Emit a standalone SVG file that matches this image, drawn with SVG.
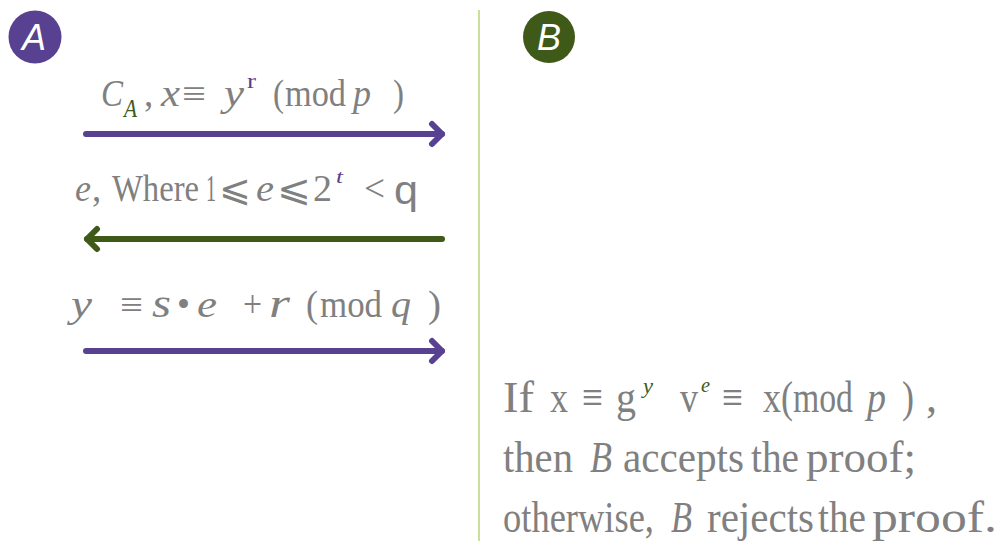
<svg xmlns="http://www.w3.org/2000/svg" width="1001" height="541" viewBox="0 0 1001 541">
<style>
.t{font-family:"Liberation Serif","DejaVu Serif",serif;fill:#808080;}
.l{font-size:37px;}
.r{font-size:44px;}
.i{font-style:italic;}
.sym{font-family:"DejaVu Sans","Liberation Serif",sans-serif;}
.pur{fill:#574190;}
.grn{fill:#3f5a18;}
.badge{font-family:"Liberation Sans",sans-serif;font-style:italic;font-size:36px;fill:#ffffff;}
.conn{fill:none;stroke-width:6;stroke-linecap:round;}
</style>
<defs>
<marker id="hp" viewBox="-14 -14 28 28" refX="0" refY="0" markerWidth="28" markerHeight="28" markerUnits="userSpaceOnUse" orient="auto">
<path d="M-10,-10 L0,0 L-10,10" fill="none" stroke="#574190" stroke-width="6" stroke-linecap="round" stroke-linejoin="round"/>
</marker>
<marker id="hg" viewBox="-14 -14 28 28" refX="0" refY="0" markerWidth="28" markerHeight="28" markerUnits="userSpaceOnUse" orient="auto">
<path d="M-10,-10 L0,0 L-10,10" fill="none" stroke="#3f5a18" stroke-width="6" stroke-linecap="round" stroke-linejoin="round"/>
</marker>
</defs>
<rect width="1001" height="541" fill="#ffffff"/>

<g id="nodeA">
<circle cx="35" cy="37" r="26.5" fill="#574190"/>
<text class="badge" x="34" y="50" text-anchor="middle">A</text>
</g>
<g id="nodeB">
<circle cx="549" cy="37" r="26" fill="#3f5a18"/>
<text class="badge" x="549" y="50" text-anchor="middle">B</text>
</g>

<g id="lifeline">
<line x1="479" y1="10" x2="479" y2="541" stroke="#c8e09a" stroke-width="2"/>
</g>

<g id="connectors">
<path class="conn" d="M86,134 L442,134" stroke="#574190" marker-end="url(#hp)"/>
<path class="conn" d="M442,239 L87,239" stroke="#3f5a18" marker-end="url(#hg)"/>
<path class="conn" d="M86,351 L442,351" stroke="#574190" marker-end="url(#hp)"/>
</g>

<g id="label1">
<text class="t l" y="106"><tspan class="i" x="101" textLength="22" lengthAdjust="spacingAndGlyphs">C</tspan><tspan class="i grn" x="124" y="117" font-size="26" textLength="13" lengthAdjust="spacingAndGlyphs">A</tspan><tspan x="144" y="106">,</tspan><tspan class="i" x="161" textLength="19" lengthAdjust="spacingAndGlyphs">x</tspan><tspan x="182" textLength="24" lengthAdjust="spacingAndGlyphs">≡</tspan><tspan class="i" x="224" textLength="20" lengthAdjust="spacingAndGlyphs">y</tspan><tspan class="pur" x="247" y="88" font-size="22" textLength="9" lengthAdjust="spacingAndGlyphs">r</tspan><tspan x="273" y="106" textLength="11" lengthAdjust="spacingAndGlyphs">(</tspan><tspan x="285" textLength="61" lengthAdjust="spacingAndGlyphs">mod</tspan><tspan class="i" x="353" textLength="18" lengthAdjust="spacingAndGlyphs">p</tspan><tspan x="393" textLength="11" lengthAdjust="spacingAndGlyphs">)</tspan></text>
</g>

<g id="label2">
<text class="t l" y="201"><tspan class="i" x="75" textLength="16" lengthAdjust="spacingAndGlyphs">e</tspan><tspan x="92">,</tspan><tspan x="112" textLength="87" lengthAdjust="spacingAndGlyphs">Where</tspan><tspan x="206" textLength="10" lengthAdjust="spacingAndGlyphs">1</tspan><tspan class="sym" x="219" textLength="32" lengthAdjust="spacingAndGlyphs">⩽</tspan><tspan class="i" x="256" textLength="18" lengthAdjust="spacingAndGlyphs">e</tspan><tspan class="sym" x="277" textLength="34" lengthAdjust="spacingAndGlyphs">⩽</tspan><tspan x="313" textLength="19" lengthAdjust="spacingAndGlyphs">2</tspan><tspan class="i pur" x="336" y="183" font-size="18" textLength="7" lengthAdjust="spacingAndGlyphs">t</tspan><tspan x="364" y="201" textLength="21" lengthAdjust="spacingAndGlyphs">&lt;</tspan><tspan x="394" y="204" style="font-family:'Liberation Sans',sans-serif;font-size:41px" textLength="24" lengthAdjust="spacingAndGlyphs">q</tspan></text>
</g>

<g id="label3">
<text class="t l" y="317"><tspan class="i" x="71" textLength="21" lengthAdjust="spacingAndGlyphs">y</tspan><tspan x="120" textLength="23" lengthAdjust="spacingAndGlyphs">≡</tspan><tspan class="i" x="152" font-size="40" textLength="19" lengthAdjust="spacingAndGlyphs">s</tspan><tspan x="177" textLength="13" lengthAdjust="spacingAndGlyphs">•</tspan><tspan class="i" x="197" textLength="20" lengthAdjust="spacingAndGlyphs">e</tspan><tspan x="243" textLength="19" lengthAdjust="spacingAndGlyphs">+</tspan><tspan class="i" x="269" font-size="40" textLength="21" lengthAdjust="spacingAndGlyphs">r</tspan><tspan x="306" textLength="12" lengthAdjust="spacingAndGlyphs">(</tspan><tspan x="320" textLength="62" lengthAdjust="spacingAndGlyphs">mod</tspan><tspan class="i" x="391" textLength="20" lengthAdjust="spacingAndGlyphs">q</tspan><tspan x="428" textLength="13" lengthAdjust="spacingAndGlyphs">)</tspan></text>
</g>

<g id="verdict">
<text class="t r" y="412"><tspan x="503" textLength="31" lengthAdjust="spacingAndGlyphs">If</tspan><tspan x="550" textLength="18" lengthAdjust="spacingAndGlyphs">x</tspan><tspan x="582" textLength="21" lengthAdjust="spacingAndGlyphs">≡</tspan><tspan x="616" textLength="20" lengthAdjust="spacingAndGlyphs">g</tspan><tspan class="i grn" x="643" y="393" font-size="22" textLength="10" lengthAdjust="spacingAndGlyphs">y</tspan><tspan x="680" y="412" textLength="18" lengthAdjust="spacingAndGlyphs">v</tspan><tspan class="i grn" x="701" y="392" font-size="22" textLength="9" lengthAdjust="spacingAndGlyphs">e</tspan><tspan x="722" y="412" textLength="21" lengthAdjust="spacingAndGlyphs">≡</tspan><tspan x="763" textLength="18" lengthAdjust="spacingAndGlyphs">x</tspan><tspan x="781" textLength="12" lengthAdjust="spacingAndGlyphs">(</tspan><tspan x="793" textLength="60" lengthAdjust="spacingAndGlyphs">mod</tspan><tspan class="i" x="867" textLength="19" lengthAdjust="spacingAndGlyphs">p</tspan><tspan x="902" textLength="12" lengthAdjust="spacingAndGlyphs">)</tspan><tspan x="926">,</tspan></text>
<text class="t r" y="472"><tspan x="503" textLength="70" lengthAdjust="spacingAndGlyphs">then</tspan><tspan class="i" x="590" textLength="22" lengthAdjust="spacingAndGlyphs">B</tspan><tspan x="623" textLength="121" lengthAdjust="spacingAndGlyphs">accepts</tspan><tspan x="751" textLength="48" lengthAdjust="spacingAndGlyphs">the</tspan><tspan x="806" textLength="110" lengthAdjust="spacingAndGlyphs">proof;</tspan></text>
<text class="t r" y="532"><tspan x="503" textLength="151" lengthAdjust="spacingAndGlyphs">otherwise,</tspan><tspan class="i" x="671" textLength="21" lengthAdjust="spacingAndGlyphs">B</tspan><tspan x="707" textLength="107" lengthAdjust="spacingAndGlyphs">rejects</tspan><tspan x="818" textLength="48" lengthAdjust="spacingAndGlyphs">the</tspan><tspan x="872" textLength="125" lengthAdjust="spacingAndGlyphs">proof.</tspan></text>
</g>
</svg>
